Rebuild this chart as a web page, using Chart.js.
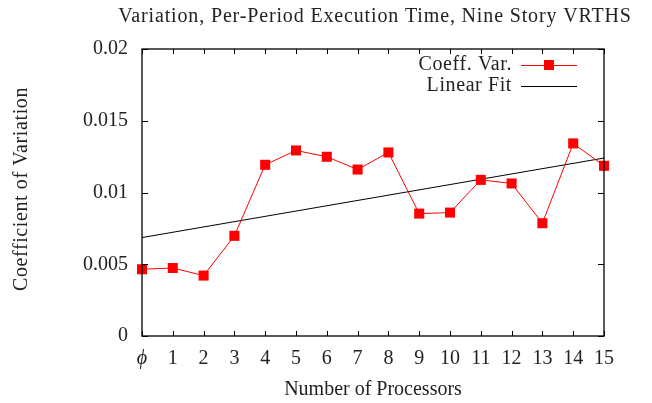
<!DOCTYPE html>
<html lang="en">
<head>
    <meta charset="UTF-8">
    <title>Variation, Per-Period Execution Time</title>
    <script src="https://cdn.jsdelivr.net/npm/chart.js"></script>
    <style>
        body { margin: 0; background: #fff; }
        #chart { display: block; }
    </style>
</head>
<body>
    <canvas id="chart" width="652" height="403"></canvas>
    <script>
        // data
        const processors = [0, 1, 2, 3, 4, 5, 6, 7, 8, 9, 10, 11, 12, 13, 14, 15];
        const coeffVar = [0.00465, 0.00474, 0.00421, 0.00698, 0.01193, 0.01293, 0.01249, 0.0116,
                          0.01279, 0.00853, 0.0086, 0.01088, 0.01063, 0.00786, 0.01342, 0.01186];
        const fitX = [0, 15];
        const fitY = [0.00686, 0.0124];
        const yTicks = [0, 0.005, 0.01, 0.015, 0.02];
        const yTickLabels = ['0', '0.005', '0.01', '0.015', '0.02'];
        const xTickLabels = ['\u03d5', '1', '2', '3', '4', '5', '6', '7', '8', '9', '10', '11', '12', '13', '14', '15'];

        const FONT = '"Liberation Serif", serif';
        const AREA = { left: 142, right: 604, top: 49, bottom: 336 };

        // gnuplot style: box around plot, inward ticks on all four sides, legend, title, y label
        const gnuplotFrame = {
            id: 'gnuplotFrame',
            afterDraw(chart) {
                const ctx = chart.ctx;
                const a = chart.chartArea;
                const xs = chart.scales.x, ys = chart.scales.y;
                ctx.save();
                ctx.strokeStyle = '#000';
                ctx.lineWidth = 1;
                ctx.beginPath();
                xs.ticks.forEach(t => {
                    const px = Math.round(xs.getPixelForValue(t.value)) + 0.5;
                    ctx.moveTo(px, a.bottom); ctx.lineTo(px, a.bottom - 5);
                    ctx.moveTo(px, a.top); ctx.lineTo(px, a.top + 5);
                });
                ys.ticks.forEach(t => {
                    const py = Math.round(ys.getPixelForValue(t.value)) + 0.5;
                    ctx.moveTo(a.left, py); ctx.lineTo(a.left + 6, py);
                    ctx.moveTo(a.right, py); ctx.lineTo(a.right - 6, py);
                });
                ctx.stroke();
                ctx.lineWidth = 1.3;
                ctx.strokeRect(a.left, a.top, a.right - a.left, a.bottom - a.top);

                // title
                ctx.fillStyle = '#222';
                ctx.font = '20px ' + FONT;
                ctx.textAlign = 'center';
                ctx.textBaseline = 'middle';
                ctx.letterSpacing = '0.85px';
                ctx.fillText('Variation, Per-Period Execution Time, Nine Story VRTHS', (a.left + a.right) / 2 + 2, 17);
                ctx.letterSpacing = '0.6px';

                // y axis label
                ctx.save();
                ctx.translate(22, 189);
                ctx.rotate(-Math.PI / 2);
                ctx.fillText('Coefficient of Variation', 0, 0);
                ctx.restore();

                // legend
                const ds = chart.data.datasets;
                ctx.textAlign = 'right';
                [65, 86].forEach((ly, i) => {
                    ctx.fillStyle = '#222';
                    ctx.fillText(ds[i].label, 512, ly);
                    ctx.strokeStyle = ds[i].borderColor;
                    ctx.lineWidth = 1;
                    ctx.beginPath();
                    ctx.moveTo(521, ly + 0.5); ctx.lineTo(577, ly + 0.5);
                    ctx.stroke();
                    if (i === 0) {
                        ctx.fillStyle = ds[i].pointBackgroundColor;
                        ctx.fillRect(544, ly - 5, 10, 10);
                    }
                });
                ctx.restore();
            }
        };

        new Chart(document.getElementById('chart'), {
            type: 'line',
            data: {
                datasets: [
                    {
                        label: 'Coeff. Var.',
                        data: processors.map((p, i) => ({ x: p, y: coeffVar[i] })),
                        borderColor: '#ff0000',
                        backgroundColor: '#ff0000',
                        pointBackgroundColor: '#ff0000',
                        pointBorderWidth: 0,
                        pointStyle: 'rect',
                        pointRadius: 7.1,
                        borderWidth: 1,
                        tension: 0,
                        clip: false
                    },
                    {
                        label: 'Linear Fit',
                        data: fitX.map((x, i) => ({ x: x, y: fitY[i] })),
                        borderColor: '#000000',
                        borderWidth: 1,
                        pointRadius: 0,
                        tension: 0
                    }
                ]
            },
            options: {
                responsive: false,
                devicePixelRatio: 1,
                animation: false,
                layout: { padding: { top: AREA.top, right: 652 - AREA.right, left: 0, bottom: 0 } },
                plugins: {
                    legend: { display: false },
                    title: { display: false },
                    tooltip: { enabled: false }
                },
                scales: {
                    x: {
                        type: 'linear',
                        min: 0,
                        max: 15,
                        afterFit: s => { s.height = 403 - AREA.bottom; },
                        afterBuildTicks: s => { s.ticks = processors.map(v => ({ value: v })); },
                        grid: { display: false, drawTicks: false },
                        border: { display: false },
                        ticks: {
                            padding: 11,
                            color: '#222',
                            maxRotation: 0,
                            autoSkip: false,
                            callback: (v, i) => xTickLabels[i],
                            font: c => (c.tick && c.tick.value === 0)
                                ? { family: FONT, size: 20, style: 'italic' }
                                : { family: FONT, size: 20 }
                        },
                        title: {
                            display: true,
                            text: 'Number of Processors',
                            color: '#222',
                            font: { family: FONT, size: 20 },
                            padding: { top: 8, bottom: 1 }
                        }
                    },
                    y: {
                        min: 0,
                        max: 0.02,
                        afterFit: s => { s.width = AREA.left; },
                        afterBuildTicks: s => { s.ticks = yTicks.map(v => ({ value: v })); },
                        grid: { display: false, drawTicks: false },
                        border: { display: false },
                        ticks: {
                            padding: 14,
                            color: '#222',
                            font: { family: FONT, size: 20 },
                            callback: (v, i) => yTickLabels[i]
                        }
                    }
                }
            },
            plugins: [gnuplotFrame]
        });
    </script>
</body>
</html>
